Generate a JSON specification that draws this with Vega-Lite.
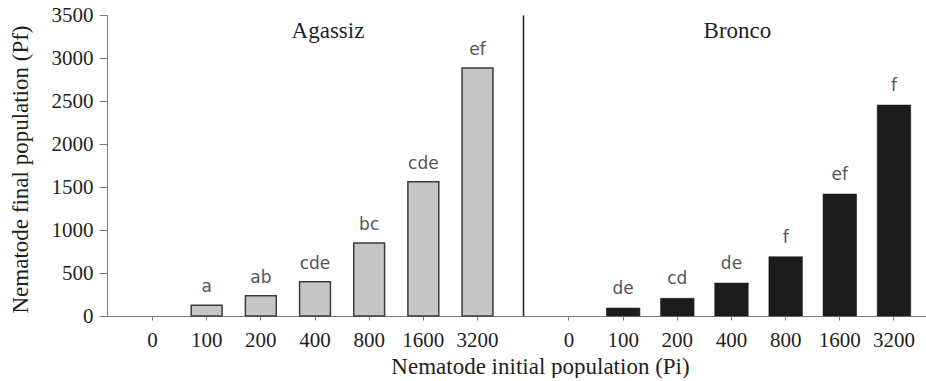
{
  "$schema": "https://vega.github.io/schema/vega-lite/v6.json",
  "padding": {"left": 9, "top": 4, "right": 0, "bottom": 0},
  "spacing": 0,
  "bounds": "flush",
  "config": {
    "view": {"stroke": null},
    "font": "Liberation Serif",
    "style": {"guide-label": {"font": "Liberation Serif"}, "guide-title": {"font": "Liberation Serif", "fontWeight": "normal"}},
    "axis": {"grid": false, "labelFont": "Liberation Serif", "titleFont": "Liberation Serif", "labelColor": "#231f20", "titleColor": "#231f20", "titleFontWeight": "normal", "labelFontSize": 21, "titleFontSize": 23, "domainColor": "#7a7a7a", "tickColor": "#7a7a7a"}
  },
  "datasets": {
    "pop": [
      {"cultivar": "Agassiz", "pi": 0, "pf": 0, "letter": ""},
      {"cultivar": "Agassiz", "pi": 100, "pf": 125, "letter": "a"},
      {"cultivar": "Agassiz", "pi": 200, "pf": 236, "letter": "ab"},
      {"cultivar": "Agassiz", "pi": 400, "pf": 399, "letter": "cde"},
      {"cultivar": "Agassiz", "pi": 800, "pf": 849, "letter": "bc"},
      {"cultivar": "Agassiz", "pi": 1600, "pf": 1562, "letter": "cde"},
      {"cultivar": "Agassiz", "pi": 3200, "pf": 2884, "letter": "ef"},
      {"cultivar": "Bronco", "pi": 0, "pf": 0, "letter": ""},
      {"cultivar": "Bronco", "pi": 100, "pf": 93, "letter": "de"},
      {"cultivar": "Bronco", "pi": 200, "pf": 206, "letter": "cd"},
      {"cultivar": "Bronco", "pi": 400, "pf": 384, "letter": "de"},
      {"cultivar": "Bronco", "pi": 800, "pf": 690, "letter": "f"},
      {"cultivar": "Bronco", "pi": 1600, "pf": 1419, "letter": "ef"},
      {"cultivar": "Bronco", "pi": 3200, "pf": 2454, "letter": "f"}
    ],
    "groups": [
      {"cultivar": "Agassiz"},
      {"cultivar": "Bronco"}
    ]
  },
  "hconcat": [
    {
      "width": 416,
      "height": 301,
      "layer": [
        {
          "data": {"name": "pop"},
          "transform": [{"filter": "datum.cultivar === 'Agassiz' && datum.pf > 0"}],
          "mark": {"type": "bar", "fill": "#c6c6c6", "stroke": "#3c3c3c", "strokeWidth": 1.5},
          "encoding": {
            "x": {"field": "pi", "type": "ordinal", "scale": {"paddingInner": 0.43, "paddingOuter": 0.555},
              "axis": {"labelAngle": 0, "tickSize": 4, "labelPadding": 26, "labelBaseline": "alphabetic", "labelFont": "Liberation Serif", "labelFontSize": 21, "title": "Nematode initial population (Pi)", "titleFont": "Liberation Serif", "titleFontWeight": "normal", "titleX": 433, "titleY": 57, "titleAlign": "center", "titleBaseline": "alphabetic", "titleFontSize": 23}},
            "y": {"field": "pf", "type": "quantitative", "scale": {"domain": [0, 3500], "nice": false},
              "axis": {"values": [0, 500, 1000, 1500, 2000, 2500, 3000, 3500], "format": "d", "tickSize": 8, "labelPadding": 6, "labelFont": "Liberation Serif", "labelFontSize": 21, "title": "Nematode final population (Pf)", "titleFont": "Liberation Serif", "titleFontWeight": "normal", "titleFontSize": 23, "titleX": -80, "titleY": 154, "titleAlign": "center", "titleBaseline": "alphabetic", "titleAngle": -90}}
          }
        },
        {
          "data": {"name": "pop"},
          "transform": [{"filter": "datum.cultivar === 'Agassiz'"}],
          "mark": {"type": "text", "font": "DejaVu Sans", "fontSize": 17, "color": "#555555", "baseline": "alphabetic", "dy": -13},
          "encoding": {
            "x": {"field": "pi", "type": "ordinal"},
            "y": {"field": "pf", "type": "quantitative"},
            "text": {"field": "letter"}
          }
        },
        {
          "data": {"name": "groups"},
          "transform": [{"filter": "datum.cultivar === 'Agassiz'"}],
          "mark": {"type": "text", "font": "Liberation Serif", "fontSize": 23, "color": "#231f20", "baseline": "alphabetic", "dx": 13},
          "encoding": {
            "x": {"datum": 400, "type": "ordinal"},
            "y": {"datum": 3230, "type": "quantitative"},
            "text": {"field": "cultivar"}
          }
        }
      ]
    },
    {
      "width": 403,
      "height": 301,
      "layer": [
        {
          "data": {"name": "pop"},
          "transform": [{"filter": "datum.cultivar === 'Bronco' && datum.pf > 0"}],
          "mark": {"type": "bar", "fill": "#1c1c1c", "stroke": "#1c1c1c", "strokeWidth": 0.5},
          "encoding": {
            "x": {"field": "pi", "type": "ordinal", "scale": {"paddingInner": 0.38, "paddingOuter": 0.41, "align": 0.657},
              "axis": {"labelAngle": 0, "tickSize": 4, "labelPadding": 26, "labelBaseline": "alphabetic", "labelFont": "Liberation Serif", "labelFontSize": 21, "title": null}},
            "y": {"field": "pf", "type": "quantitative", "scale": {"domain": [0, 3500], "nice": false},
              "axis": {"title": null, "labels": false, "ticks": false, "domainColor": "#1a1a1a", "domainWidth": 1.5}}
          }
        },
        {
          "data": {"name": "pop"},
          "transform": [{"filter": "datum.cultivar === 'Bronco'"}],
          "mark": {"type": "text", "font": "DejaVu Sans", "fontSize": 17, "color": "#555555", "baseline": "alphabetic", "dy": -14},
          "encoding": {
            "x": {"field": "pi", "type": "ordinal"},
            "y": {"field": "pf", "type": "quantitative"},
            "text": {"field": "letter"}
          }
        },
        {
          "data": {"name": "groups"},
          "transform": [{"filter": "datum.cultivar === 'Bronco'"}],
          "mark": {"type": "text", "font": "Liberation Serif", "fontSize": 23, "color": "#231f20", "baseline": "alphabetic", "dx": 6},
          "encoding": {
            "x": {"datum": 400, "type": "ordinal"},
            "y": {"datum": 3230, "type": "quantitative"},
            "text": {"field": "cultivar"}
          }
        }
      ]
    }
  ]
}
